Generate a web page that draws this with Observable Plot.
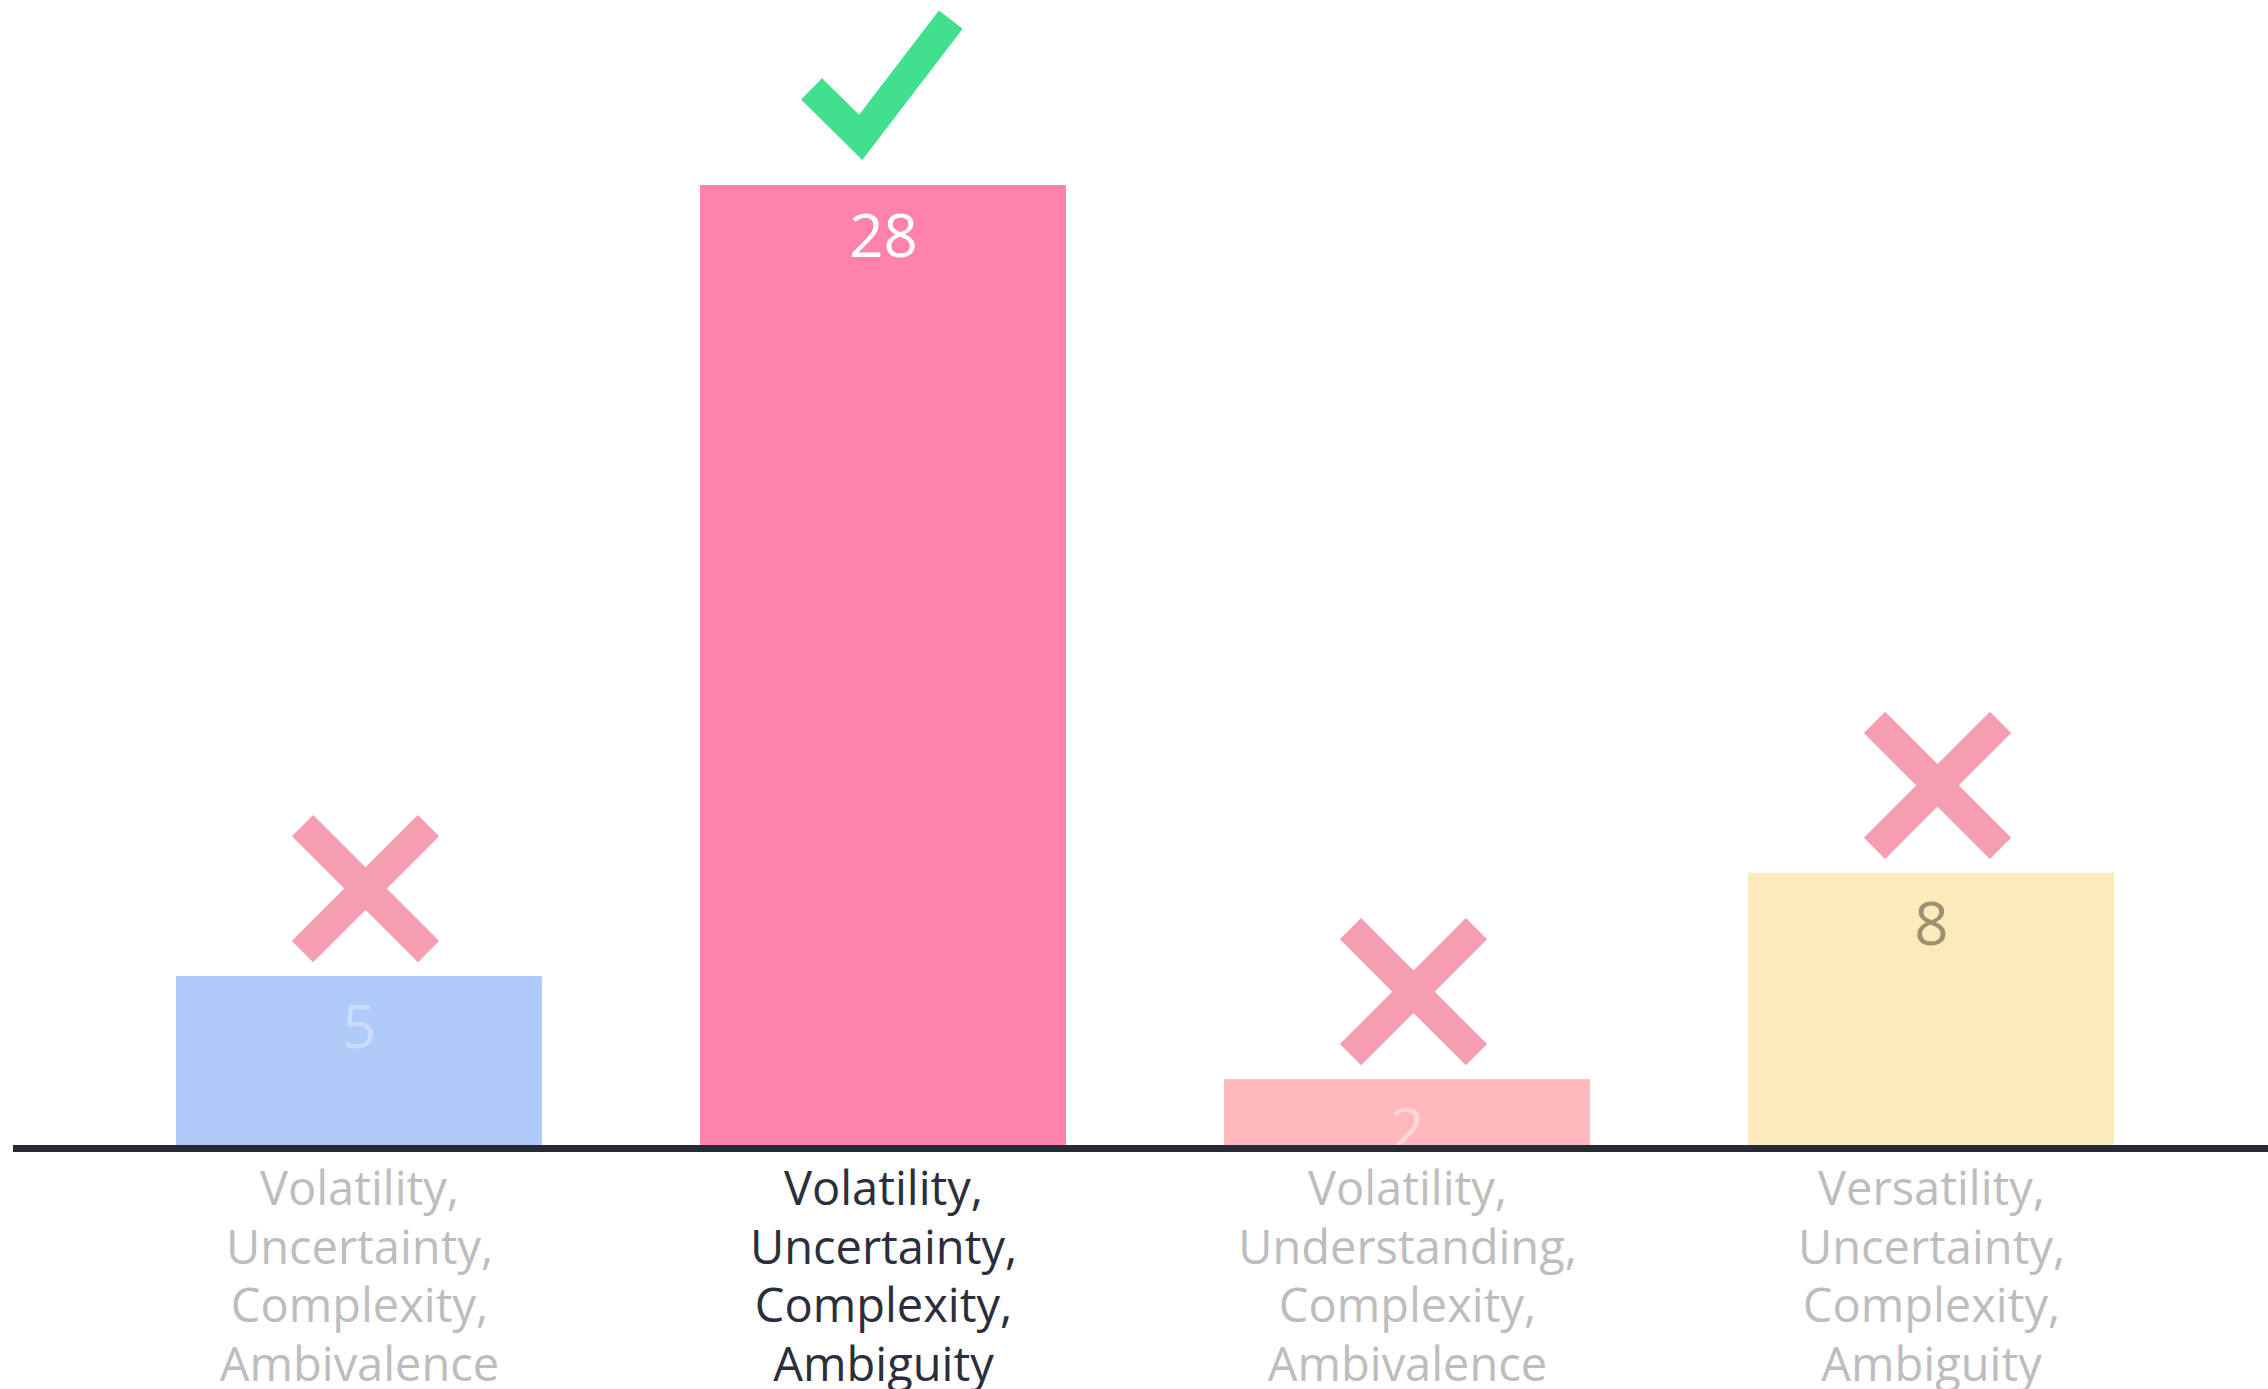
<!DOCTYPE html>
<html><head><meta charset="utf-8">
<script src="https://cdn.jsdelivr.net/npm/d3@7"></script>
<script src="https://cdn.jsdelivr.net/npm/@observablehq/plot@0.6"></script>
<style>html,body{margin:0;padding:0;background:#fff;overflow:hidden}</style>
</head><body><div id="chart"></div>
<script>
const categories = [
  "Volatility,\nUncertainty,\nComplexity,\nAmbivalence",
  "Volatility,\nUncertainty,\nComplexity,\nAmbiguity",
  "Volatility,\nUnderstanding,\nComplexity,\nAmbivalence",
  "Versatility,\nUncertainty,\nComplexity,\nAmbiguity"
];
const values = [5, 28, 2, 8];
const correct = [false, true, false, false];
const barColors = ["#afcbfa", "#ff82aa", "#ffb9bd", "#fdeab9"];
const valueLabelColors = ["#cadcfc", "#ffffff", "#ffd6d8", "#9c9170"];
const categoryLabelColors = ["#bdbdbd", "#2b2e3b", "#bdbdbd", "#bdbdbd"];

const data = categories.map((c, i) => ({
  category: c, value: values[i], correct: correct[i],
  bar: barColors[i], lab: valueLabelColors[i], cat: categoryLabelColors[i]
}));

const crossSymbol = {
  draw(ctx, size) {
    const r = Math.sqrt(size / Math.PI);
    ctx.moveTo(-r, -r); ctx.lineTo(r, r);
    ctx.moveTo(r, -r); ctx.lineTo(-r, r);
  }
};
const checkSymbol = {
  draw(ctx, size) {
    const r = Math.sqrt(size / Math.PI);
    ctx.moveTo(-1.11 * r, -0.12 * r);
    ctx.lineTo(-0.33 * r, 0.65 * r);
    ctx.lineTo(1.10 * r, -1.22 * r);
  }
};

const font = "'Open Sans', Lato, sans-serif";

const chart = Plot.plot({
  width: 2268,
  height: 1389,
  marginTop: 185,
  marginBottom: 241,
  marginLeft: 13,
  marginRight: 0,
  style: {background: "#fff", fontFamily: font},
  x: {type: "band", domain: categories, paddingInner: 0.302, paddingOuter: 0.3, align: 0.514, axis: null},
  y: {domain: [0, 28], axis: null},
  color: {type: "identity"},
  marks: [
    Plot.barY(data, {x: "category", y: "value", fill: "bar"}),
    Plot.text(data, {x: "category", y: "value", text: d => String(d.value), dy: 52, fontSize: 60, fontWeight: 400, fill: "lab", fontFamily: font}),
    Plot.ruleY([0], {stroke: "#262b36", strokeWidth: 7}),
    Plot.dot(data.filter(d => !d.correct), {x: "category", y: "value", symbol: crossSymbol, r: 63, dx: 6, dy: -88, fill: "none", stroke: "#f59db1", strokeWidth: 30, strokeLinecap: "butt"}),
    Plot.dot(data.filter(d => d.correct), {x: "category", y: "value", symbol: checkSymbol, r: 63, dx: -2, dy: -89, fill: "none", stroke: "#40e08f", strokeWidth: 30, strokeLinecap: "butt", strokeLinejoin: "miter"}),
    Plot.text(data, {x: "category", y: 0, text: "category", dy: 15, lineAnchor: "top", fontSize: 47, lineHeight: 1.245, fill: "cat", fontFamily: font})
  ]
});
document.getElementById("chart").appendChild(chart);
</script>
</body></html>
